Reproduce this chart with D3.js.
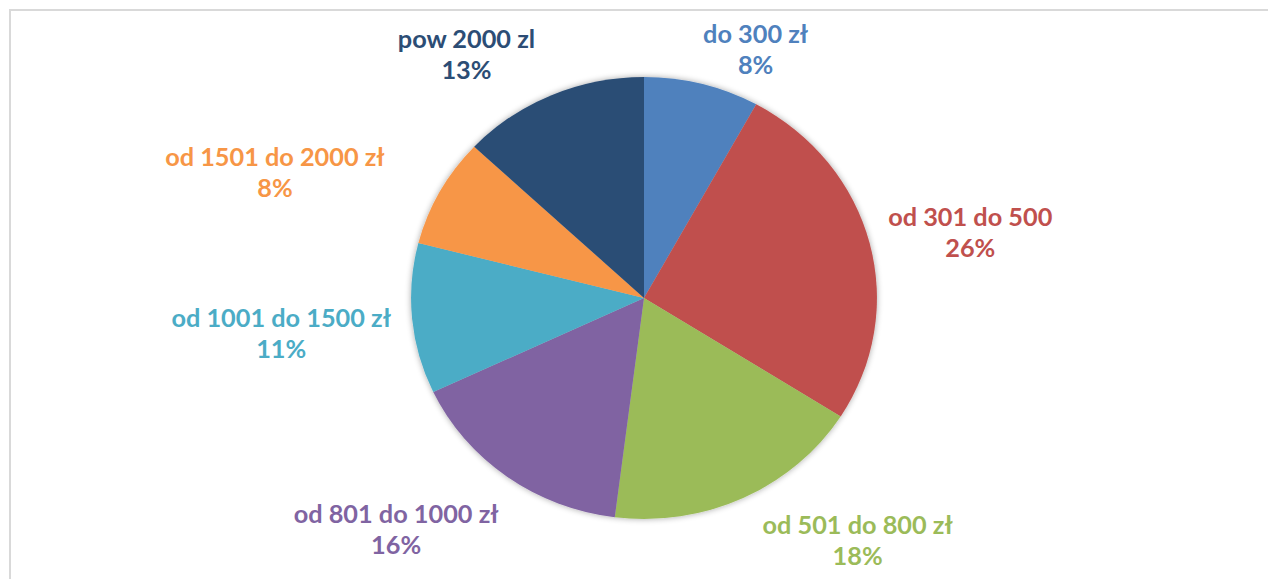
<!DOCTYPE html>
<meta charset="utf-8">
<style>
  body { margin: 0; background: #fff; }
  svg { display: block; }
  .lbl { font-family: Lato, "Open Sans", sans-serif; font-weight: bold; font-size: 24px; }
</style>
<body>
<svg width="1268" height="579"></svg>
<script src="https://cdnjs.cloudflare.com/ajax/libs/d3/7.8.5/d3.min.js"></script>
<script>
  // data
  var categories = ["do 300 zł", "od 301 do 500", "od 501 do 800 zł", "od 801 do 1000 zł",
                    "od 1001 do 1500 zł", "od 1501 do 2000 zł", "pow 2000 zl"];
  var shares = [8, 26, 18, 16, 11, 8, 13];
  var colors = ["#4F81BD", "#C0504D", "#9BBB59", "#8064A2", "#4BACC6", "#F79646", "#2C4D75"];

  // layout: label nudges from the outer centroid, in px
  var nudges = [[33, 50], [20, 17], [79, -21], [-62, -4], [-48, 15], [-92, 27], [-52, 39]];

  var svg = d3.select("svg"),
    cx = 644, cy = 298,
    r = 221, sx = 1.054, labelR = 300;

  // chart area frame (top and left edges visible)
  svg.append("path")
    .attr("d", "M10,579 V10 H1268")
    .attr("fill", "none")
    .attr("stroke", "#d9d9d9")
    .attr("stroke-width", 2);

  var defs = svg.append("defs");
  var f = defs.append("filter").attr("id", "sh").attr("x", "-10%").attr("y", "-10%").attr("width", "120%").attr("height", "120%");
  f.append("feGaussianBlur").attr("in", "SourceAlpha").attr("stdDeviation", 3);
  f.append("feComponentTransfer").append("feFuncA").attr("type", "linear").attr("slope", 0.35);
  var m = f.append("feMerge");
  m.append("feMergeNode");
  m.append("feMergeNode").attr("in", "SourceGraphic");

  var pie = d3.pie().sort(null).value(function(d) { return d; });
  var arcs = pie(shares);
  var arc = d3.arc().innerRadius(0).outerRadius(r);
  var outer = d3.arc().innerRadius(labelR).outerRadius(labelR);

  var g = svg.append("g")
    .attr("transform", "translate(" + cx + "," + cy + ") scale(" + sx + ",1)")
    .attr("filter", "url(#sh)");

  g.selectAll("path")
    .data(arcs)
    .enter().append("path")
    .attr("d", arc)
    .attr("fill", function(d, i) { return colors[i]; });

  var labels = svg.append("g").selectAll("text")
    .data(arcs)
    .enter().append("text")
    .attr("class", "lbl")
    .attr("text-anchor", "middle")
    .attr("fill", function(d, i) { return colors[i]; })
    .attr("transform", function(d, i) {
      var c = outer.centroid(d);
      return "translate(" + (cx + c[0] * sx + nudges[i][0]) + "," + (cy + c[1] + nudges[i][1]) + ") scale(" + sx + ",1)";
    });

  labels.append("tspan")
    .attr("x", 0).attr("y", -14)
    .text(function(d, i) { return categories[i]; });
  labels.append("tspan")
    .attr("x", 0).attr("y", 17)
    .text(function(d) { return d.data + "%"; });
</script>
</body>
